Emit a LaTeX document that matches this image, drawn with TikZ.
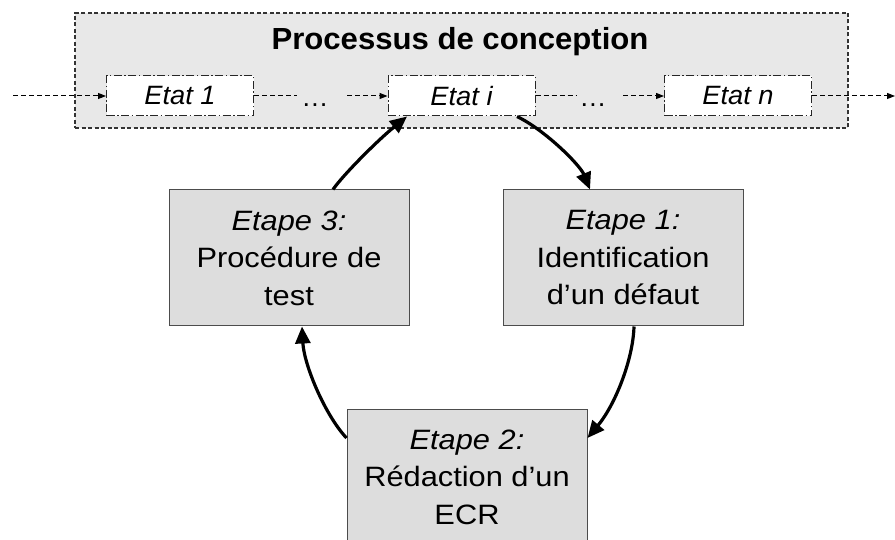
\documentclass[tikz,border=0pt]{standalone}
\usepackage{fontspec}
\setmainfont{Liberation Sans}
\newfontfamily\stepfont[FakeStretch=1.1]{Liberation Sans}
\newfontfamily\etatfont[FakeStretch=1.03]{Liberation Sans}
\newfontfamily\titlefont[FakeStretch=1.02]{Liberation Sans}
\usetikzlibrary{arrows.meta}
\begin{document}
\begin{tikzpicture}[x=1pt,y=-1pt,
  outerbox/.style={draw=black!80, fill=gray!18, line width=1.2pt, dash pattern=on 4pt off 2.5pt, minimum width=773pt, minimum height=115pt, inner sep=0pt},
  etat/.style={draw=black!85, fill=white, line width=1pt, dash pattern=on 8pt off 2.5pt on 1.5pt off 2.5pt, minimum width=147pt, minimum height=40pt, inner sep=0pt, font=\etatfont\fontsize{26.5}{30}\selectfont\itshape},
  stepbox/.style={draw=black!70, fill=gray!27, line width=1pt, minimum width=240pt, minimum height=136pt, inner sep=0pt, align=center, font=\stepfont\fontsize{28}{37.5}\selectfont},
  dline/.style={line width=1pt, dash pattern=on 5pt off 3pt},
  dlinearrow/.style={dline, -{Triangle[length=8pt,width=6pt]}},
  bigarrow/.style={line width=3.2pt, -{Triangle[length=17pt,width=15pt]}},
  dotstext/.style={font=\etatfont\fontsize{26.5}{30}\selectfont, anchor=base, inner sep=0pt},
  titletext/.style={font=\titlefont\fontsize{30.5}{34}\selectfont\bfseries, anchor=base, inner sep=0pt}
]
\useasboundingbox (0,0) rectangle (895,540);

% process frame
\node[outerbox] (proc) at (461.5,70.5) {};
\node[titletext] (title) at (460,50) {Processus de conception};

% states
\node[etat] (s1) at (180,96) {Etat 1};
\node[etat] (si) at (461.5,96) {Etat i};
\node[etat] (sn) at (738,96) {Etat n};

\node[dotstext] (d1) at (315,107) {…};
\node[dotstext] (d2) at (593,107) {…};

\coordinate (in) at (13,96);
\coordinate (out) at (895,96);
\coordinate (d1a) at (297,96);
\coordinate (d1b) at (347,96);
\coordinate (d2a) at (577,96);
\coordinate (d2b) at (623,96);

\draw[dlinearrow] (in) -- (s1);
\draw[dline] (s1) -- (d1a);
\draw[dlinearrow] (d1b) -- (si);
\draw[dline] (si) -- (d2a);
\draw[dlinearrow] (d2b) -- (sn);
\draw[dlinearrow] (sn) -- (out);

% steps
\node[stepbox] (e3) at (289,258) {\textit{Etape 3:}\\Procédure de\\test};
\node[stepbox] (e1) at (623,258) {\textit{Etape 1:}\\Identification\\d’un défaut};
\node[stepbox] (e2) at (467,477) {\textit{Etape 2:}\\Rédaction d’un\\ECR};

% cycle arrows
\draw[bigarrow] ([xshift=55.5pt]si.south) .. controls (545,130) and (580,165) .. ([xshift=-33pt]e1.north);
\draw[bigarrow] ([xshift=11pt]e1.south) .. controls (633,360) and (615,405) .. ([yshift=39pt]e2.east);
\draw[bigarrow] ([yshift=39pt]e2.west) .. controls (325,415) and (304,365) .. ([xshift=13pt]e3.south);
\draw[bigarrow] ([xshift=44pt]e3.north) .. controls (343,175) and (378,140) .. ([xshift=-54.5pt]si.south);
\end{tikzpicture}
\end{document}
